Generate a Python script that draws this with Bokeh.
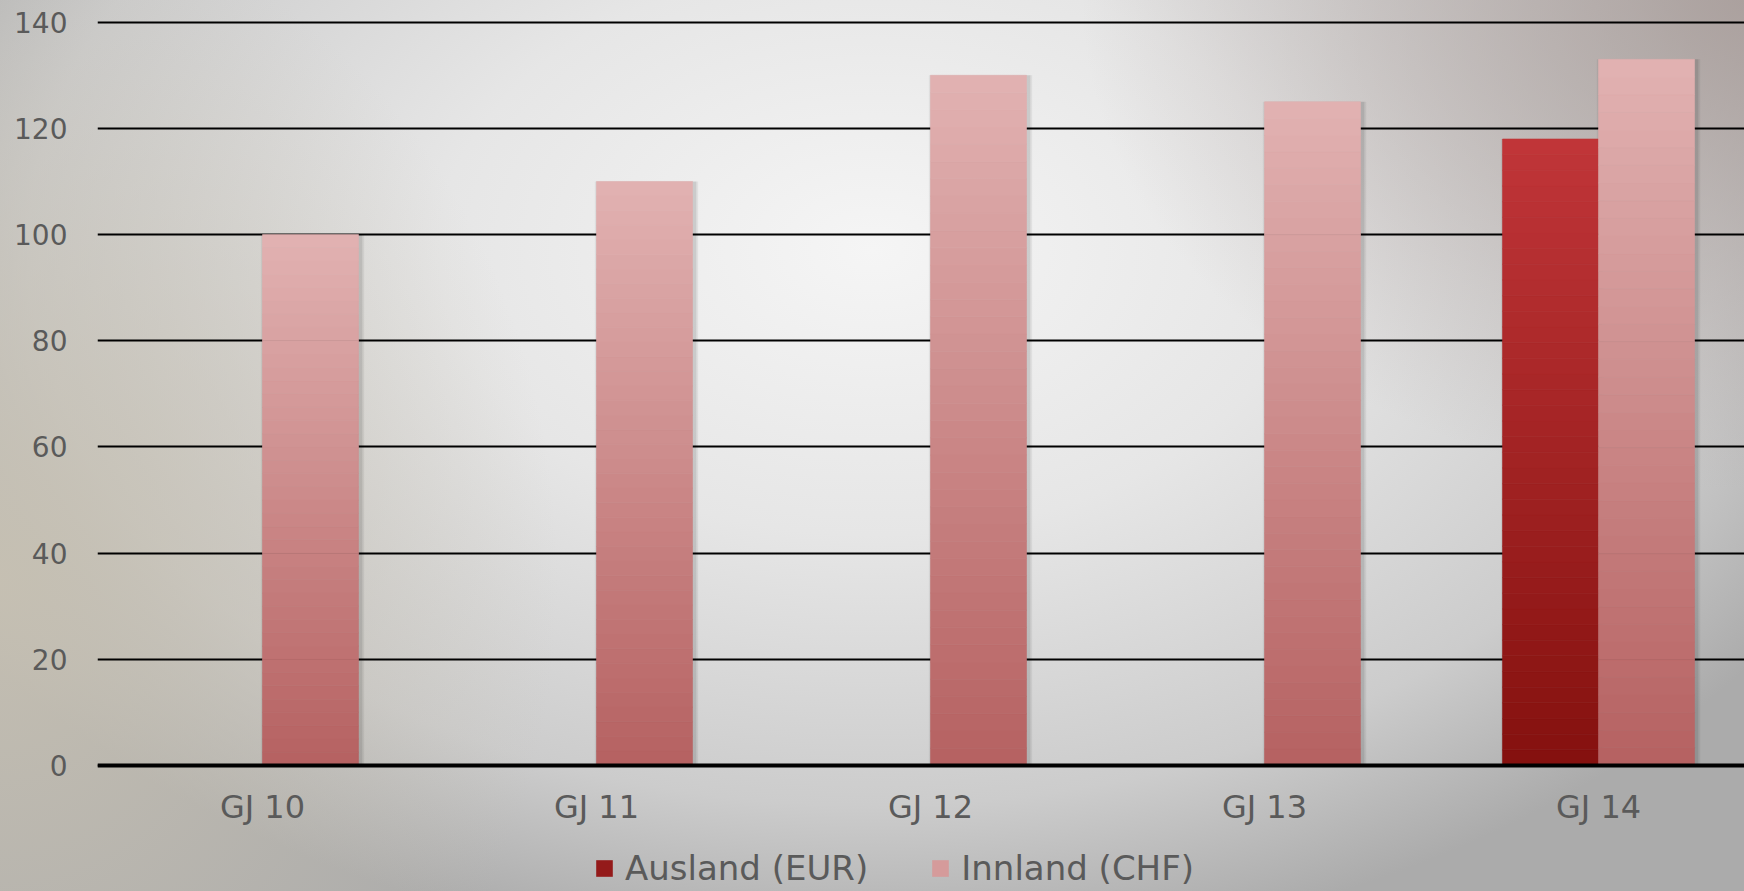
from bokeh.plotting import figure
from bokeh.models import Range1d, FixedTicker, Legend, LegendItem, ColumnDataSource
from bokeh.embed import file_html
from bokeh.resources import INLINE

categories = ["GJ 10", "GJ 11", "GJ 12", "GJ 13", "GJ 14"]
ausland = [0, 0, 0, 0, 118]
innland = [100, 110, 130, 125, 133]
y_ticks = [0, 20, 40, 60, 80, 100, 120, 140]

FONT = "DejaVu Sans"
TXT = "#5a5a5a"
BAR_W = 0.2874


def hex2rgb(h):
    h = h.lstrip("#")
    return tuple(int(h[i:i + 2], 16) for i in (0, 2, 4))


def mix(c1, c2, t):
    a, b = hex2rgb(c1), hex2rgb(c2)
    return "#%02x%02x%02x" % tuple(round(a[i] + (b[i] - a[i]) * t) for i in range(3))


def grad_source(values, shift, bottom_col, top_col, n=40):
    d = dict(x=[], b=[], t=[], c=[])
    for i, v in enumerate(values):
        if v <= 0:
            continue
        for k in range(n):
            d["x"].append(i + shift)
            d["b"].append(v * k / n)
            d["t"].append(v * (k + 1) / n)
            d["c"].append(mix(bottom_col, top_col, k / (n - 1)))
    return ColumnDataSource(d)


p = figure(width=1744, height=891, output_backend="svg", toolbar_location=None,
           x_range=Range1d(-0.494, 4.437), y_range=Range1d(-23.73, 141.45),
           min_border_left=97, min_border_right=0, min_border_top=14,
           min_border_bottom=0)
p.styles = {"background": (
    "radial-gradient(ellipse 38% 55% at 100% 0%, rgba(168,156,153,0.85) 0%, rgba(168,156,153,0) 100%),"
    "radial-gradient(ellipse 32% 75% at 0% 65%, rgba(198,192,178,0.95) 0%, rgba(198,192,178,0) 100%),"
    "radial-gradient(ellipse 62% 80% at 50% 28%, #f5f5f5 0%, #e6e6e6 40%, #cccccc 78%, #ababab 100%)")}
p.background_fill_alpha = 0
p.border_fill_alpha = 0
p.outline_line_color = None

# soft shadows
for vals, sh in ((ausland, -BAR_W / 2), (innland, BAR_W / 2)):
    xs = [i + sh + 0.006 for i, v in enumerate(vals) if v > 0]
    ts = [v for v in vals if v > 0]
    p.vbar(x=xs, top=ts, bottom=0, width=BAR_W + 0.022, fill_color="black", fill_alpha=0.06, line_color=None)
    p.vbar(x=xs, top=ts, bottom=0, width=BAR_W + 0.011, fill_color="black", fill_alpha=0.09, line_color=None)

src_a = grad_source(ausland, -BAR_W / 2, "#85110f", "#c03538")
src_i = grad_source(innland, BAR_W / 2, "#b66262", "#e1b1b1")
r_a = p.vbar(x="x", bottom="b", top="t", width=BAR_W, fill_color="c", line_color="c",
             line_width=0.6, source=src_a)
r_i = p.vbar(x="x", bottom="b", top="t", width=BAR_W, fill_color="c", line_color="c",
             line_width=0.6, source=src_i)

p.ygrid.ticker = FixedTicker(ticks=y_ticks)
p.ygrid.grid_line_color = "black"
p.ygrid.grid_line_width = 2
p.xgrid.grid_line_color = None

p.yaxis.ticker = FixedTicker(ticks=y_ticks)
p.yaxis.axis_line_color = None
p.yaxis.major_tick_line_color = None
p.yaxis.minor_tick_line_color = None
p.yaxis.major_tick_out = 0
p.yaxis.major_label_standoff = 30
p.yaxis.major_label_text_font = FONT
p.yaxis.major_label_text_font_size = "28px"
p.yaxis.major_label_text_color = TXT

p.xaxis.fixed_location = 0
p.xaxis.ticker = FixedTicker(ticks=list(range(len(categories))))
p.xaxis.major_label_overrides = {i: c for i, c in enumerate(categories)}
p.xaxis.axis_line_color = "black"
p.xaxis.axis_line_width = 4
p.xaxis.major_tick_line_color = None
p.xaxis.minor_tick_line_color = None
p.xaxis.major_tick_out = 0
p.xaxis.major_label_standoff = 22
p.xaxis.major_label_text_font = FONT
p.xaxis.major_label_text_font_size = "32px"
p.xaxis.major_label_text_color = TXT

legend = Legend(items=[LegendItem(label="Ausland (EUR)", renderers=[r_a], index=10),
                       LegendItem(label="Innland (CHF)", renderers=[r_i], index=28)],
                orientation="horizontal", location=(497, 3),
                glyph_width=20, glyph_height=20, label_standoff=11, spacing=62,
                padding=0, margin=0, border_line_color=None, background_fill_alpha=0,
                label_text_font=FONT, label_text_font_size="34px", label_text_color=TXT)
p.add_layout(legend, "center")

open("out.html", "w").write(file_html(p, INLINE))
